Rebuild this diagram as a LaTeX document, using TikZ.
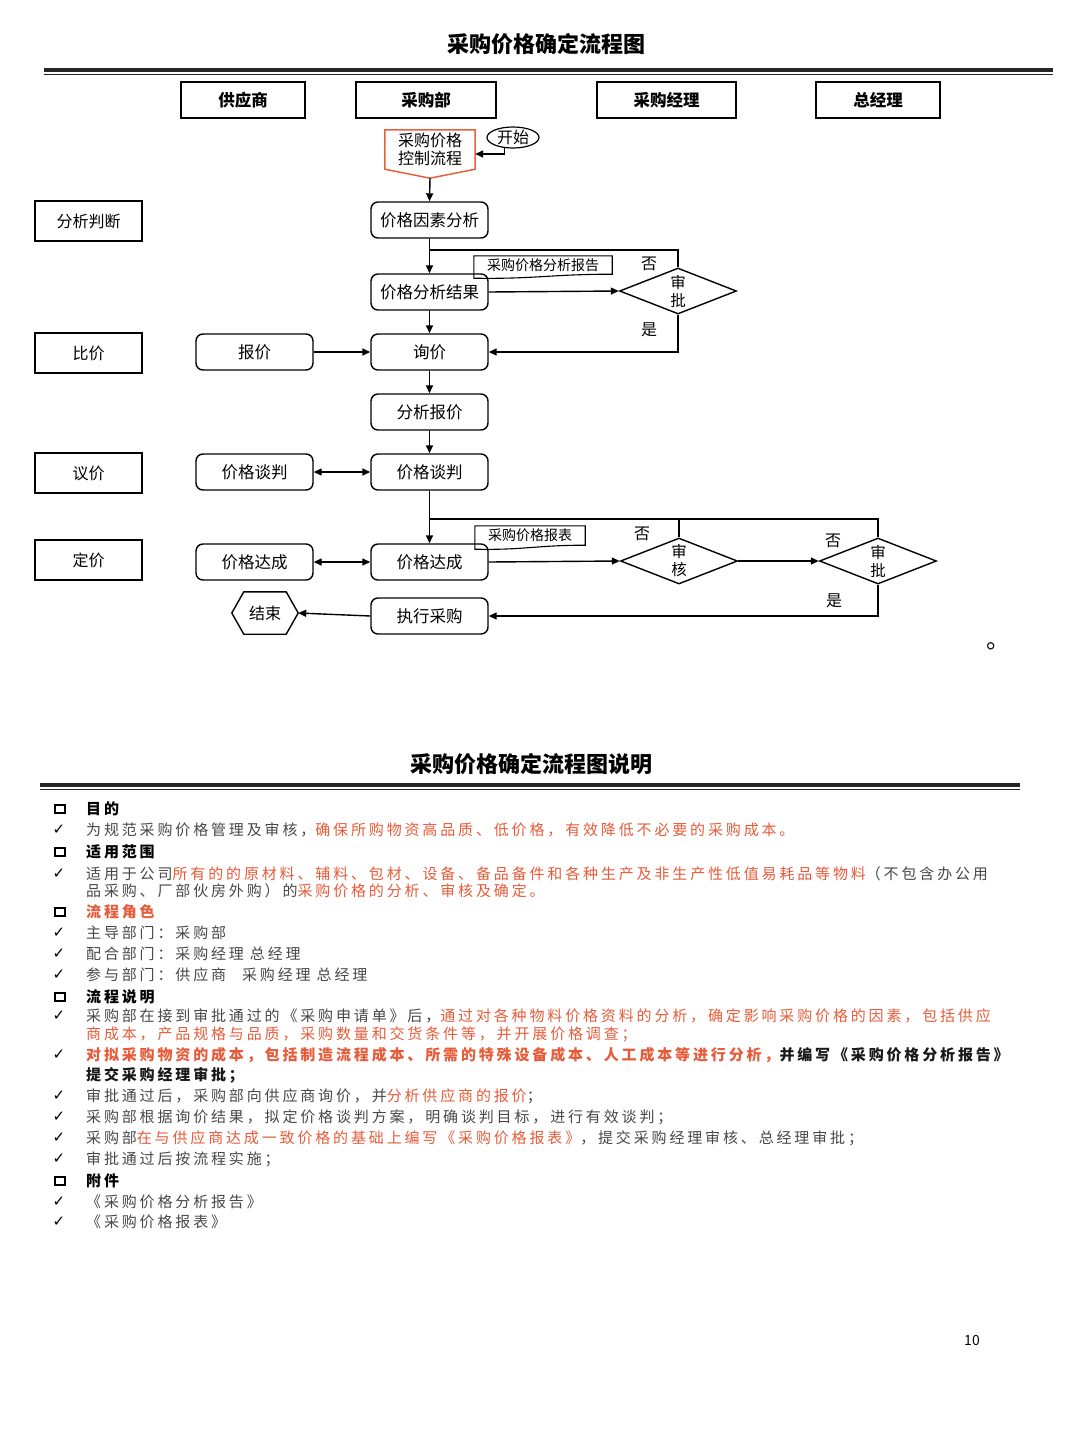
\documentclass[tikz,border=0pt]{standalone}
\usepackage{fontspec}
\setmainfont{Noto Sans CJK SC}
\newfontfamily\bodyf[LetterSpace=19]{Noto Sans CJK SC}
\newfontfamily\symf{DejaVu Sans}
\usetikzlibrary{shapes.geometric,arrows.meta,calc}
\definecolor{txtred}{RGB}{230,92,58}
\definecolor{txtgray}{RGB}{72,72,72}
\definecolor{pentc}{RGB}{232,96,60}
\newcommand\rd[1]{\textcolor{txtred}{#1}}
\begin{document}
\begin{tikzpicture}[x=1pt,y=-1pt,
  hdr/.style={draw,line width=1.2pt,minimum width=124pt,minimum height=36pt,inner sep=0pt,font=\bfseries\fontsize{16.5}{18}\selectfont},
  lbl/.style={draw,line width=2pt,minimum width=107pt,minimum height=40pt,inner sep=0pt,font=\fontsize{16}{18}\selectfont},
  proc/.style={draw,line width=1.4pt,rounded corners=7pt,minimum width=117pt,minimum height=36pt,inner sep=0pt,font=\fontsize{16.5}{18}\selectfont},
  dec/.style={diamond,draw,line width=1.4pt,aspect=2,inner sep=0pt,minimum width=117pt,minimum height=46pt,align=center,font=\fontsize{15.5}{18}\selectfont},
  docu/.style={inner sep=0pt,minimum height=18pt,font=\fontsize{14}{16}\selectfont},
  yn/.style={inner sep=0pt,font=\fontsize{16}{18}\selectfont},
  arr/.style={line width=1.4pt,-{Triangle[length=8pt,width=7pt]}},
  darr/.style={line width=1.4pt,{Triangle[length=8pt,width=7pt]}-{Triangle[length=8pt,width=7pt]}},
  ln/.style={line width=1.4pt},
  body/.style={anchor=west,inner sep=0pt,text=txtgray,font=\bodyf\fontsize{15}{17}\selectfont},
  head/.style={anchor=west,inner sep=0pt,text=black,font=\bodyf\bfseries\fontsize{15}{17}\selectfont},
  bbody/.style={anchor=west,inner sep=0pt,text=black!90,font=\bodyf\bfseries\fontsize{15}{17}\selectfont},
  sq/.style={draw,line width=2.2pt,minimum width=10pt,minimum height=8pt,inner sep=0pt},
  chk/.style={inner sep=0pt,font=\symf\fontsize{15}{15}\selectfont},
  ttl/.style={inner sep=0pt,font=\bfseries\fontsize{22}{24}\selectfont}
]
\fill[white] (0,0) rectangle (1080,1440);
\useasboundingbox (0,0) rectangle (1080,1440);

% ---------- title ----------
\node[ttl] (title1) at (546,44) {采购价格确定流程图};
\draw[line width=3.5pt,black!85] (44,70) -- (1053,70);
\draw[line width=1.2pt,black!85] (44,74.5) -- (1053,74.5);

% ---------- lane headers ----------
\node[hdr] (hs) at (243,100) {供应商};
\node[hdr,minimum width=140pt] (hc) at (426,100) {采购部};
\node[hdr,minimum width=139pt] (hm) at (666.5,100) {采购经理};
\node[hdr] (hg) at (878,100) {总经理};

% ---------- left stage labels ----------
\node[lbl] (lb1) at (88.5,221) {分析判断};
\node[lbl] (lb2) at (88.5,353) {比价};
\node[lbl] (lb3) at (88.5,473) {议价};
\node[lbl] (lb4) at (88.5,560) {定价};

% ---------- start ----------
\node[inner sep=0pt,minimum width=90pt,minimum height=39pt,align=center,font=\fontsize{16}{18}\selectfont] (pent) at (430,149.5) {采购价格\\控制流程};
\draw[pentc,line width=1.5pt] (pent.north west) -- (pent.north east) -- (pent.south east) -- ([yshift=-9pt]pent.south) -- (pent.south west) -- cycle;
\coordinate (ptip) at ([yshift=-9pt]pent.south);
\node[ellipse,draw,line width=1.2pt,inner sep=0pt,minimum width=52pt,minimum height=21pt,font=\fontsize{16}{18}\selectfont] (start) at (513,137.5) {开始};

% ---------- process nodes ----------
\node[proc] (f1) at (429.5,220) {价格因素分析};
\node[proc] (f2) at (429.5,292) {价格分析结果};
\node[dec] (d1) at (678,291) {审\\批};
\node[proc] (q) at (429.5,352) {询价};
\node[proc] (bj) at (254.5,352) {报价};
\node[proc] (fx) at (429.5,412) {分析报价};
\node[proc] (tp) at (429.5,472) {价格谈判};
\node[proc] (tpl) at (254.5,472) {价格谈判};
\node[proc] (dc) at (429.5,562) {价格达成};
\node[proc] (dcl) at (254.5,562) {价格达成};
\node[dec] (d2) at (679,561) {审\\核};
\node[dec] (d3) at (878,561) {审\\批};
\node[proc] (zx) at (429.5,616) {执行采购};
\node[inner sep=0pt,minimum width=66pt,minimum height=42pt,font=\fontsize{16}{18}\selectfont] (endn) at (265,613) {结束};
\draw[line width=1.4pt] ([xshift=12pt]endn.north west) -- ([xshift=-12pt]endn.north east) -- (endn.east) -- ([xshift=-12pt]endn.south east) -- ([xshift=12pt]endn.south west) -- (endn.west) -- cycle;

% ---------- document notes ----------
\node[docu,minimum width=138pt] (rep1) at (543,265) {采购价格分析报告};
\draw[line width=1.1pt] (rep1.north west) -- (rep1.north east) -- (rep1.south east) .. controls ([xshift=-60pt]rep1.south east) and ([xshift=60pt,yshift=-5pt]rep1.south west) .. ([yshift=-4pt]rep1.south west) -- cycle;
\node[docu,minimum width=110pt,minimum height=19pt] (rep2) at (530,535.5) {采购价格报表};
\draw[line width=1.1pt] (rep2.north west) -- (rep2.north east) -- (rep2.south east) .. controls ([xshift=-50pt]rep2.south east) and ([xshift=50pt,yshift=-5pt]rep2.south west) .. ([yshift=-4pt]rep2.south west) -- cycle;

% ---------- yes/no labels ----------
\node[yn] (no1) at (649,264) {否};
\node[yn] (yes1) at (649,330) {是};
\node[yn] (no2) at (642,534) {否};
\node[yn] (no3) at (833,541) {否};
\node[yn] (yes2) at (834,601) {是};

% ---------- connectors ----------
\draw[arr] (start.230) |- ([yshift=-4.5pt]pent.east);
\draw[arr] (ptip) -- (f1.north);
\draw[arr] (f1.south) -- (f2.north);
\coordinate (j1) at (429.5,250);
\draw[ln] (d1.north) |- (j1);
\draw[arr] (f2.east) -- (d1.west);
\draw[arr] (d1.south) |- (q.east);
\draw[arr] (f2.south) -- (q.north);
\draw[arr] (bj.east) -- (q.west);
\draw[arr] (q.south) -- (fx.north);
\draw[arr] (fx.south) -- (tp.north);
\draw[darr] (tpl.east) -- (tp.west);
\draw[arr] (tp.south) -- (dc.north);
\coordinate (j2) at (429.5,519);
\draw[ln] (j2) -| (d3.north);
\draw[ln] (d2.north) -- (d2.north |- j2);
\draw[darr] (dcl.east) -- (dc.west);
\draw[arr] (dc.east) -- (d2.west);
\draw[arr] (d2.east) -- (d3.west);
\draw[arr] (d3.south) |- (zx.east);
\draw[arr] (zx.west) -- (endn.east);

\node[inner sep=0pt,font=\fontsize{24}{24}\selectfont] (dot) at (998,646) {。};

% ---------- explanation ----------
\node[ttl] (title2) at (531,764) {采购价格确定流程图说明};
\draw[line width=3.5pt,black!85] (40,785) -- (1020,785);
\draw[line width=1.2pt,black!85] (40,789.5) -- (1020,789.5);

\node[sq] (m1) at (60,809) {};
\node[head] (t1) at (86,809) {目的};
\node[chk] (c1) at (59,830) {✓};
\node[body] (t2) at (86,830) {为规范采购价格管理及审核，\rd{确保所购物资高品质、低价格，有效降低不必要的采购成本。}};
\node[sq] (m2) at (60,852) {};
\node[head] (t3) at (86,852) {适用范围};
\node[chk] (c2) at (59,874) {✓};
\node[body] (t4) at (86,874) {适用于公司\rd{所有的的原材料、辅料、包材、设备、备品备件和各种生产及非生产性低值易耗品等物料}（不包含办公用};
\node[body] (t5) at (86,891) {品采购、厂部伙房外购）的\rd{采购价格的分析、审核及确定。}};
\node[sq] (m3) at (60,912) {};
\node[head,text=txtred] (t6) at (86,912) {流程角色};
\node[chk] (c3) at (59,933) {✓};
\node[body] (t7) at (86,933) {主导部门：采购部};
\node[chk] (c4) at (59,954) {✓};
\node[body] (t8) at (86,954) {配合部门：采购经理\hspace{6pt}总经理};
\node[chk] (c5) at (59,975) {✓};
\node[body] (t9) at (86,975) {参与部门：供应商\hspace{16pt}采购经理\hspace{6pt}总经理};
\node[sq] (m4) at (60,997) {};
\node[head] (t10) at (86,997) {流程说明};
\node[chk] (c6) at (59,1016) {✓};
\node[body] (t11) at (86,1016) {采购部在接到审批通过的《采购申请单》后，\rd{通过对各种物料价格资料的分析，确定影响采购价格的因素，包括供应}};
\node[body] (t12) at (86,1034) {\rd{商成本，产品规格与品质，采购数量和交货条件等，并开展价格调查；}};
\node[chk] (c7) at (59,1055) {✓};
\node[bbody] (t13) at (86,1055) {\rd{对拟采购物资的成本，包括制造流程成本、所需的特殊设备成本、人工成本等进行分析，}并编写《采购价格分析报告》};
\node[bbody] (t14) at (86,1075) {提交采购经理审批；};
\node[chk] (c8) at (59,1096) {✓};
\node[body] (t15) at (86,1096) {审批通过后，采购部向供应商询价，并\rd{分析供应商的报价}；};
\node[chk] (c9) at (59,1117) {✓};
\node[body] (t16) at (86,1117) {采购部根据询价结果，拟定价格谈判方案，明确谈判目标，进行有效谈判；};
\node[chk] (c10) at (59,1138) {✓};
\node[body] (t17) at (86,1138) {采购部\rd{在与供应商达成一致价格的基础上编写《采购价格报表》}，提交采购经理审核、总经理审批；};
\node[chk] (c11) at (59,1159) {✓};
\node[body] (t18) at (86,1159) {审批通过后按流程实施；};
\node[sq] (m5) at (60,1181) {};
\node[head] (t19) at (86,1181) {附件};
\node[chk] (c12) at (59,1202) {✓};
\node[body] (t20) at (86,1202) {《采购价格分析报告》};
\node[chk] (c13) at (59,1222) {✓};
\node[body] (t21) at (86,1222) {《采购价格报表》};

\node[inner sep=0pt,font=\fontsize{14}{16}\selectfont] (pg) at (972,1340) {10};
\end{tikzpicture}
\end{document}
